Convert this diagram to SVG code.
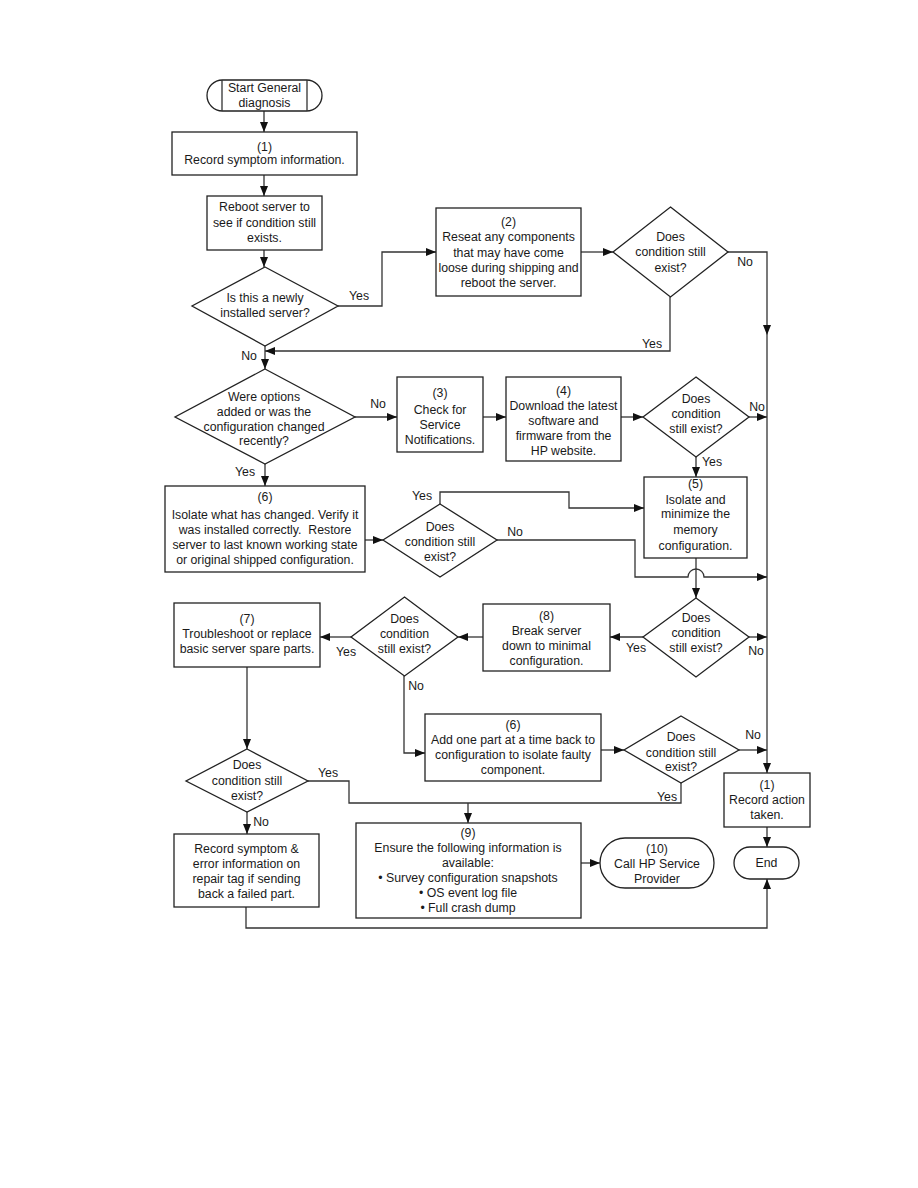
<svg xmlns="http://www.w3.org/2000/svg" width="918" height="1188" viewBox="0 0 918 1188">
<style>
text{font-family:"Liberation Sans",Arial,sans-serif;font-size:12.3px;fill:#1a1a1a;text-anchor:middle}
.s{fill:#fff;stroke:#222;stroke-width:1.3}
.c{fill:none;stroke:#333;stroke-width:1.3}
.a{marker-end:url(#ah)}
</style>
<defs>
<marker id="ah" markerUnits="userSpaceOnUse" markerWidth="10" markerHeight="8" refX="10" refY="4" orient="auto">
<path d="M0,0 L10,4 L0,8 z" fill="#111"/>
</marker>
</defs>
<rect width="918" height="1188" fill="#fff"/>

<g id="connectors">
<path class="c a" d="M264,111 V132"/>
<path class="c a" d="M264,175 V196"/>
<path class="c a" d="M264,250 V267"/>
<path class="c a" d="M338,306 H382 V252 H436"/>
<path class="c a" d="M581,252 H613"/>
<path class="c a" d="M728,252 H767 V335"/>
<path class="c a" d="M767,335 V773"/>
<path class="c a" d="M670,297 V351 H265"/>
<path class="c a" d="M265,346 V369"/>
<path class="c a" d="M355,417 H397"/>
<path class="c a" d="M265,464 V486"/>
<path class="c a" d="M483,417 H506"/>
<path class="c a" d="M621,417 H643"/>
<path class="c a" d="M749,417 H767"/>
<path class="c a" d="M696,457 V477"/>
<path class="c a" d="M365,540 H383"/>
<path class="c a" d="M440,504 V492 H569 V508 H644"/>
<path class="c a" d="M497,540 H635 V577 H688 A8,8 0 0 1 704,577 H767"/>
<path class="c a" d="M696,558 V598"/>
<path class="c a" d="M643,637 H610"/>
<path class="c a" d="M749,637 H767"/>
<path class="c a" d="M483,637 H458"/>
<path class="c a" d="M351,637 H320"/>
<path class="c a" d="M404,676 V753 H425"/>
<path class="c a" d="M601,750 H624"/>
<path class="c a" d="M739,750 H767"/>
<path class="c" d="M681,783 V803 H349 V781 H308"/>
<path class="c a" d="M468,803 V823"/>
<path class="c a" d="M247,667 V749"/>
<path class="c a" d="M247,812 V834"/>
<path class="c a" d="M767,827 V847"/>
<path class="c a" d="M246,907 V928 H767 V879"/>
<path class="c a" d="M581,863 H600"/>
<text x="359" y="300">Yes</text>
<text x="745" y="266">No</text>
<text x="652" y="348">Yes</text>
<text x="249" y="360">No</text>
<text x="378" y="408">No</text>
<text x="245" y="476">Yes</text>
<text x="757" y="411">No</text>
<text x="712" y="466">Yes</text>
<text x="422" y="500">Yes</text>
<text x="515" y="536">No</text>
<text x="636" y="652">Yes</text>
<text x="756" y="655">No</text>
<text x="346" y="656">Yes</text>
<text x="416" y="690">No</text>
<text x="753" y="739">No</text>
<text x="328" y="777">Yes</text>
<text x="667" y="801">Yes</text>
<text x="261" y="826">No</text>
</g>

<g id="start">
<rect class="s" x="207" y="80" width="115" height="31" rx="15.5"/>
<path class="c" d="M222,80 V111 M307,80 V111" stroke="#222"/>
<text x="264.5" y="92">Start General</text>
<text x="264.5" y="107">diagnosis</text>
</g>

<g id="n1">
<rect class="s" x="172" y="132" width="185" height="43"/>
<text x="264.5" y="151">(1)</text>
<text x="264.5" y="164">Record symptom information.</text>
</g>

<g id="reboot">
<rect class="s" x="207" y="196" width="115" height="54"/>
<text x="264.5" y="211">Reboot server to</text>
<text x="264.5" y="227">see if condition still</text>
<text x="264.5" y="242">exists.</text>
</g>

<g id="d-newly">
<polygon class="s" points="265,267 338,306 265,346 192,306"/>
<text x="265" y="302">Is this a newly</text>
<text x="265" y="317">installed server?</text>
</g>

<g id="n2">
<rect class="s" x="436" y="208" width="145" height="88"/>
<text x="508.5" y="226">(2)</text>
<text x="508.5" y="241">Reseat any components</text>
<text x="508.5" y="257">that may have come</text>
<text x="508.5" y="272">loose during shipping and</text>
<text x="508.5" y="287">reboot the server.</text>
</g>

<g id="d2">
<polygon class="s" points="670.5,207 728,252 670.5,297 613,252"/>
<text x="670.5" y="241">Does</text>
<text x="670.5" y="256">condition still</text>
<text x="670.5" y="272">exist?</text>
</g>

<g id="d-options">
<polygon class="s" points="265,369 355,417 265,464 175,417"/>
<text x="264" y="401">Were options</text>
<text x="264" y="416">added or was the</text>
<text x="264" y="431">configuration changed</text>
<text x="264" y="445">recently?</text>
</g>

<g id="n3">
<rect class="s" x="397" y="377" width="86" height="75"/>
<text x="440" y="397">(3)</text>
<text x="440" y="414">Check for</text>
<text x="440" y="429">Service</text>
<text x="440" y="444">Notifications.</text>
</g>

<g id="n4">
<rect class="s" x="506" y="377" width="115" height="84"/>
<text x="563.5" y="395">(4)</text>
<text x="563.5" y="410">Download the latest</text>
<text x="563.5" y="425">software and</text>
<text x="563.5" y="440">firmware from the</text>
<text x="563.5" y="455">HP website.</text>
</g>

<g id="d4">
<polygon class="s" points="696,377 749,417 696,457 643,417"/>
<text x="696" y="403">Does</text>
<text x="696" y="418">condition</text>
<text x="696" y="433">still exist?</text>
</g>

<g id="n5">
<rect class="s" x="644" y="477" width="103" height="81"/>
<text x="695.5" y="488">(5)</text>
<text x="695.5" y="504">Isolate and</text>
<text x="695.5" y="518">minimize the</text>
<text x="695.5" y="534">memory</text>
<text x="695.5" y="550">configuration.</text>
</g>

<g id="n6">
<rect class="s" x="165" y="486" width="200" height="86"/>
<text x="265" y="501">(6)</text>
<text x="265" y="519">Isolate what has changed. Verify it</text>
<text x="265" y="534" xml:space="preserve">was installed correctly.  Restore</text>
<text x="265" y="549">server to last known working state</text>
<text x="265" y="564">or original shipped configuration.</text>
</g>

<g id="d5">
<polygon class="s" points="440,504 497,540 440,577 383,540"/>
<text x="440" y="531">Does</text>
<text x="440" y="546">condition still</text>
<text x="440" y="561">exist?</text>
</g>

<g id="d6">
<polygon class="s" points="696,598 749,637 696,677 643,637"/>
<text x="696" y="622">Does</text>
<text x="696" y="637">condition</text>
<text x="696" y="652">still exist?</text>
</g>

<g id="n8">
<rect class="s" x="483" y="604" width="127" height="67"/>
<text x="546.5" y="620">(8)</text>
<text x="546.5" y="635">Break server</text>
<text x="546.5" y="650">down to minimal</text>
<text x="546.5" y="665">configuration.</text>
</g>

<g id="d7">
<polygon class="s" points="404.5,597 458,637 404.5,676 351,637"/>
<text x="404.5" y="623">Does</text>
<text x="404.5" y="638">condition</text>
<text x="404.5" y="653">still exist?</text>
</g>

<g id="n7">
<rect class="s" x="174" y="603" width="146" height="64"/>
<text x="247" y="623">(7)</text>
<text x="247" y="638">Troubleshoot or replace</text>
<text x="247" y="653">basic server spare parts.</text>
</g>

<g id="n6b">
<rect class="s" x="425" y="714" width="176" height="67"/>
<text x="513" y="729">(6)</text>
<text x="513" y="744">Add one part at a time back to</text>
<text x="513" y="759">configuration to isolate faulty</text>
<text x="513" y="774">component.</text>
</g>

<g id="d9">
<polygon class="s" points="681,716 739,750 681,783 624,750"/>
<text x="681" y="741">Does</text>
<text x="681" y="757">condition still</text>
<text x="681" y="771">exist?</text>
</g>

<g id="d8">
<polygon class="s" points="247,749 308,781 247,812 186,781"/>
<text x="247" y="769">Does</text>
<text x="247" y="785">condition still</text>
<text x="247" y="800">exist?</text>
</g>

<g id="record-action">
<rect class="s" x="724" y="773" width="86" height="54"/>
<text x="767" y="789">(1)</text>
<text x="767" y="804">Record action</text>
<text x="767" y="819">taken.</text>
</g>

<g id="end">
<rect class="s" x="734" y="847" width="65" height="32" rx="16"/>
<text x="766.5" y="867">End</text>
</g>

<g id="record-symptom">
<rect class="s" x="174" y="834" width="145" height="73"/>
<text x="246.5" y="853">Record symptom &amp;</text>
<text x="246.5" y="868">error information on</text>
<text x="246.5" y="883">repair tag if sending</text>
<text x="246.5" y="898">back a failed part.</text>
</g>

<g id="n9">
<rect class="s" x="356" y="823" width="225" height="95"/>
<text x="468" y="837">(9)</text>
<text x="468" y="852">Ensure the following information is</text>
<text x="468" y="867">available:</text>
<text x="468" y="882">• Survey configuration snapshots</text>
<text x="468" y="897">• OS event log file</text>
<text x="468" y="912">• Full crash dump</text>
</g>

<g id="n10">
<rect class="s" x="600" y="838" width="114" height="50" rx="25"/>
<text x="657" y="853">(10)</text>
<text x="657" y="868">Call HP Service</text>
<text x="657" y="883">Provider</text>
</g>
</svg>
